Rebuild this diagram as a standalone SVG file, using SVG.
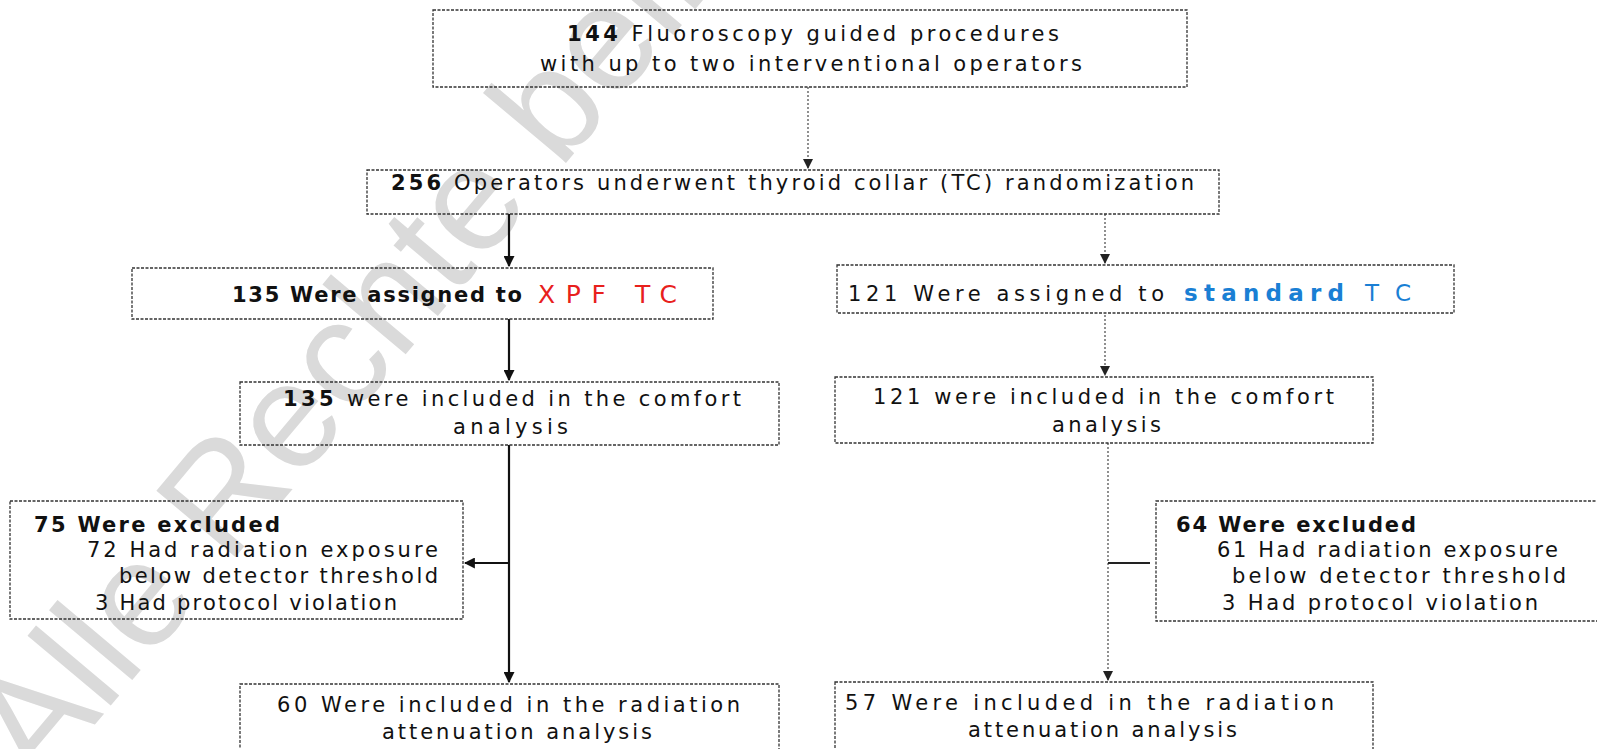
<svg xmlns="http://www.w3.org/2000/svg" width="1597" height="749" viewBox="0 0 1597 749">
<style>
.box{fill:none;stroke:#333;stroke-width:1.3;stroke-dasharray:3 1.5}
.t{font-family:"DejaVu Sans",Verdana,sans-serif;font-size:21px;fill:#111}
.b{font-weight:bold}
.wm{font-family:"Liberation Sans",Arial,sans-serif;font-size:150px;fill:#dadada}
.solid{stroke:#111;stroke-width:2.2;fill:none}
.dot{stroke:#555;stroke-width:1.3;fill:none;stroke-dasharray:2 2}
</style>
<defs>
<marker id="ah" viewBox="0 0 10 10" refX="9" refY="5" markerWidth="5" markerHeight="5" orient="auto" markerUnits="strokeWidth"><path d="M0,0 L10,5 L0,10 z" fill="#111"/></marker>
<marker id="ah2" viewBox="0 0 10 10" refX="9" refY="5" markerWidth="8" markerHeight="8" orient="auto" markerUnits="strokeWidth"><path d="M0,0 L10,5 L0,10 z" fill="#222"/></marker>
</defs>
<rect width="1597" height="749" fill="#fff"/>
<text class="wm" transform="translate(40,790) rotate(-50)">Alle Rechte beim</text>
<g id="connectors">
<line class="dot" x1="808" y1="87" x2="808" y2="168" marker-end="url(#ah2)"/>
<line class="solid" x1="509" y1="214" x2="509" y2="266" marker-end="url(#ah)"/>
<line class="dot" x1="1105" y1="214" x2="1105" y2="263" marker-end="url(#ah2)"/>
<line class="solid" x1="509" y1="319" x2="509" y2="380" marker-end="url(#ah)"/>
<line class="dot" x1="1105" y1="315" x2="1105" y2="375" marker-end="url(#ah2)"/>
<line class="solid" x1="509" y1="445" x2="509" y2="682" marker-end="url(#ah)"/>
<line class="solid" x1="509" y1="563" x2="465" y2="563" marker-end="url(#ah)"/>
<line class="dot" x1="1108" y1="443" x2="1108" y2="680" marker-end="url(#ah2)"/>
<line stroke="#222" stroke-width="2" x1="1108" y1="563" x2="1150" y2="563"/>
</g>
<g id="n1"><rect class="box" x="433" y="10" width="754" height="77"/>
<text class="t" x="567" y="41" textLength="492" lengthAdjust="spacing"><tspan class="b">144</tspan> Fluoroscopy guided procedures</text>
<text class="t" x="540" y="71" textLength="542" lengthAdjust="spacing">with up to two interventional operators</text></g>
<g id="n2"><rect class="box" x="367" y="170" width="852" height="44"/>
<text class="t" x="391" y="190" textLength="803" lengthAdjust="spacing"><tspan class="b">256</tspan> Operators underwent thyroid collar (TC) randomization</text></g>
<g id="n3"><rect class="box" x="132" y="268" width="581" height="51"/>
<text class="t b" x="232" y="302" textLength="290" lengthAdjust="spacing">135 Were assigned to</text>
<text class="t" x="538" y="303" textLength="139" lengthAdjust="spacing" style="font-size:25px;fill:#e8201c">XPF TC</text></g>
<g id="n4"><rect class="box" x="837" y="265" width="617" height="48"/>
<text class="t" x="848" y="301" textLength="316" lengthAdjust="spacing">121 Were assigned to</text>
<text class="t b" x="1184" y="301" textLength="160" lengthAdjust="spacing" style="font-size:23px;fill:#1a7fd4">standard</text>
<text class="t" x="1365" y="301" textLength="46" lengthAdjust="spacing" style="font-size:23px;fill:#1a7fd4">TC</text></g>
<g id="n5"><rect class="box" x="240" y="382" width="539" height="63"/>
<text class="t" x="283" y="406" textLength="458" lengthAdjust="spacing"><tspan class="b">135</tspan> were included in the comfort</text>
<text class="t" x="453" y="434" textLength="115" lengthAdjust="spacing">analysis</text></g>
<g id="n6"><rect class="box" x="835" y="377" width="538" height="66"/>
<text class="t" x="873" y="404" textLength="461" lengthAdjust="spacing">121 were included in the comfort</text>
<text class="t" x="1052" y="432" textLength="109" lengthAdjust="spacing">analysis</text></g>
<g id="n7"><rect class="box" x="10" y="501" width="453" height="118"/>
<text class="t b" x="34" y="532" textLength="246" lengthAdjust="spacing">75 Were excluded</text>
<text class="t" x="87" y="557" textLength="351" lengthAdjust="spacing">72 Had radiation exposure</text>
<text class="t" x="119" y="583" textLength="319" lengthAdjust="spacing">below detector threshold</text>
<text class="t" x="95" y="610" textLength="302" lengthAdjust="spacing">3 Had protocol violation</text></g>
<g id="n8"><rect class="box" x="1156" y="501" width="445" height="120"/>
<text class="t b" x="1176" y="532" textLength="240" lengthAdjust="spacing">64 Were excluded</text>
<text class="t" x="1217" y="557" textLength="341" lengthAdjust="spacing">61 Had radiation exposure</text>
<text class="t" x="1232" y="583" textLength="334" lengthAdjust="spacing">below detector threshold</text>
<text class="t" x="1222" y="610" textLength="316" lengthAdjust="spacing">3 Had protocol violation</text></g>
<g id="n9"><rect class="box" x="240" y="684" width="539" height="80"/>
<text class="t" x="277" y="712" textLength="463" lengthAdjust="spacing">60 Were included in the radiation</text>
<text class="t" x="382" y="739" textLength="270" lengthAdjust="spacing">attenuation analysis</text></g>
<g id="n10"><rect class="box" x="835" y="682" width="538" height="80"/>
<text class="t" x="845" y="710" textLength="489" lengthAdjust="spacing">57 Were included in the radiation</text>
<text class="t" x="968" y="737" textLength="269" lengthAdjust="spacing">attenuation analysis</text></g>
</svg>
